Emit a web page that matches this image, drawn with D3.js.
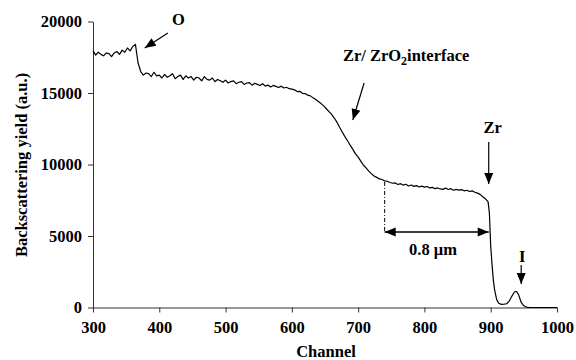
<!DOCTYPE html>
<html><head><meta charset="utf-8">
<script src="https://cdn.jsdelivr.net/npm/d3@7"></script>
<style>
html,body{margin:0;padding:0;background:#fff;}
text{font-family:"Liberation Serif","Times New Roman",serif;font-weight:bold;}
</style></head>
<body><svg id="chart" width="576" height="360"></svg>
<script>
// Sampled spectrum (channels 300..888, every 4 channels)
const mainStart = 300, mainStep = 4;
const mainYield = [
17950,17650,17850,17700,17600,17800,17750,17550,17800,17900,17700,18000,17850,18150,17950,18250,
18400,17100,
16500,16250,16400,16350,16150,16450,16200,16250,16050,16300,16100,16200,16350,16000,16150,16250,15950,16200,16050,16150,15900,16100,16050,15850,16150,15950,15900,16050,15800,15950,
15850,15750,15900,15700,15800,15850,15650,15750,15800,15600,15700,15720,15550,15680,15600,15520,15650,15480,15560,15420,15530,15460,15380,15480,15350,15400,15300,15270,
15220,15100,15120,14980,14960,14850,14800,14660,14540,14400,14260,14100,13900,13700,13500,13250,12960,12600,12270,11950,11660,11350,11060,10740,10520,
10240,9950,9760,9540,9360,9200,9100,8990,8950,8850,8830,8740,8690,8710,8600,8660,8560,8620,8500,8570,8470,8520,8430,8490,8420,
8460,8360,8400,8310,8360,8290,8260,8350,8250,8310,8200,8260,8210,8240,8160,8200,8110,8160,8060,8000,7910,7750
];
// Edge and I peak region
const tailChannel = [892,896,898,900,902,904,906,909,912,916,920,924,928,932,936,939,942,946,950,954,958,1000];
const tailYield   = [7600,7400,6600,4300,3000,1900,1200,550,300,220,230,260,450,800,1100,1120,900,350,120,30,0,0];

const xTicks = [300,400,500,600,700,800,900,1000];
const yTicks = [0,5000,10000,15000,20000];

const data = mainYield.map((v,i)=>({c: mainStart + mainStep*i, v}))
  .concat(tailChannel.map((c,i)=>({c, v: tailYield[i]})));

const svg = d3.select("#chart");
svg.append("rect").attr("width",576).attr("height",360).attr("fill","#fff");

const x = d3.scaleLinear().domain([300,1000]).range([93,557]);
const y = d3.scaleLinear().domain([0,20000]).range([307.5,21.5]);

const fs = 16.5;
const xa = svg.append("g").attr("transform","translate(0,307.5)")
  .call(d3.axisBottom(x).tickValues(xTicks).tickSize(5).tickSizeOuter(0).tickPadding(9).tickFormat(d3.format("d")));
const ya = svg.append("g").attr("transform","translate(93,0)")
  .call(d3.axisLeft(y).tickValues(yTicks).tickSize(5).tickSizeOuter(0).tickPadding(6).tickFormat(d3.format("d")));
[xa,ya].forEach(g=>{
  g.selectAll("text").attr("font-size",fs).attr("fill","#000")
   .attr("font-family","'Liberation Serif','Times New Roman',serif").attr("font-weight","bold");
  g.selectAll("line,path").attr("stroke","#333").attr("stroke-width",1);
});

svg.append("path").datum(data)
  .attr("fill","none").attr("stroke","#000").attr("stroke-width",1.2).attr("stroke-linejoin","round")
  .attr("d", d3.line().x(d=>x(d.c)).y(d=>y(d.v)));

// axis titles
svg.append("text").attr("x",326).attr("y",357).attr("text-anchor","middle").attr("font-size",fs).text("Channel");
svg.append("text").attr("transform","translate(27,165) rotate(-90)").attr("text-anchor","middle").attr("font-size",fs).text("Backscattering yield (a.u.)");

// arrow helper: filled head at (x2,y2)
function arrow(x1,y1,x2,y2){
  svg.append("line").attr("x1",x1).attr("y1",y1).attr("x2",x2).attr("y2",y2).attr("stroke","#000").attr("stroke-width",1.2);
  const a = Math.atan2(y2-y1,x2-x1), L=11, W=4.5;
  const bx = x2 - L*Math.cos(a), by = y2 - L*Math.sin(a);
  const px = -Math.sin(a)*W, py = Math.cos(a)*W;
  svg.append("path").attr("d",`M${x2},${y2}L${bx+px},${by+py}L${bx-px},${by-py}Z`).attr("fill","#000");
}

// O
svg.append("text").attr("x",178.5).attr("y",25).attr("text-anchor","middle").attr("font-size",fs).text("O");
arrow(x(413),y(19200),x(378),y(18150));
// interface
const t = svg.append("text").attr("x",x(680)-2).attr("y",y(17260)).attr("font-size",fs);
t.append("tspan").text("Zr/ ZrO");
t.append("tspan").attr("dy",4).attr("font-size",12).text("2");
t.append("tspan").attr("dy",-4).text("interface");
arrow(x(709),y(15700),x(692),y(13110));
// Zr
svg.append("text").attr("x",x(897)+4).attr("y",y(12200)).attr("text-anchor","middle").attr("font-size",fs).text("Zr");
arrow(x(897),y(11570),x(897),y(8640));
// I
svg.append("text").attr("x",x(946)+1).attr("y",y(3200)).attr("text-anchor","middle").attr("font-size",fs).text("I");
arrow(x(946),y(2970),x(946),y(1640));
// dash-dot guide
svg.append("line").attr("x1",x(740)).attr("x2",x(740)).attr("y1",y(8780)).attr("y2",y(5280))
  .attr("stroke","#000").attr("stroke-width",1).attr("stroke-dasharray","4,2,1,2");
// double arrow
arrow(x(740),y(5280),x(897),y(5280));
arrow(x(897),y(5280),x(740),y(5280));
svg.append("text").attr("x",x(813)).attr("y",y(3670)).attr("text-anchor","middle").attr("font-size",fs).text("0.8 μm");
</script></body></html>
